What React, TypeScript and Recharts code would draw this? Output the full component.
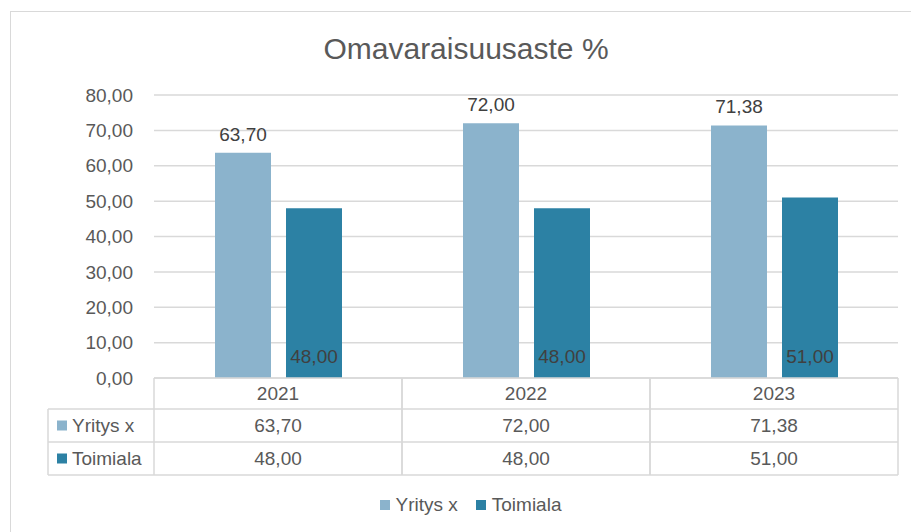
import React from 'react';
import { BarChart, Bar, XAxis, YAxis, CartesianGrid, LabelList, Legend } from 'recharts';

const years = ['2021', '2022', '2023'];
const yritysValues = [63.7, 72.0, 71.38];
const toimialaValues = [48.0, 48.0, 51.0];
const seriesNames = ['Yritys x', 'Toimiala'];
const seriesColors = ['#8BB3CC', '#2C81A4'];
const yTicks = [0, 10, 20, 30, 40, 50, 60, 70, 80];
const title = 'Omavaraisuusaste %';

const data = years.map((y, i) => ({ year: y, yritys: yritysValues[i], toimiala: toimialaValues[i] }));
const seriesValues = [yritysValues, toimialaValues];

const FONT = '"Liberation Sans", Arial, sans-serif';
const TEXT = '#595959';
const LINE = '#D9D9D9';

const fmt = (v: number) => v.toFixed(2).replace('.', ',');

const ROW_H = [31, 33, 33];

function TableTick(props: any) {
  const { x, y, payload, index } = props;
  const half = payload && payload.offset ? payload.offset : 124;
  const left = x - half;
  const right = x + half;
  const r1 = y + ROW_H[0];
  const r2 = r1 + ROW_H[1];
  const r3 = r2 + ROW_H[2];
  const els: any[] = [];
  els.push(<line key="vl" x1={left} x2={left} y1={y} y2={r3} stroke={LINE} strokeWidth={1.5} />);
  els.push(<line key="vr" x1={right} x2={right} y1={y} y2={r3} stroke={LINE} strokeWidth={1.5} />);
  els.push(<line key="h1" x1={left} x2={right} y1={r1} y2={r1} stroke={LINE} strokeWidth={1.5} />);
  els.push(<line key="h2" x1={left} x2={right} y1={r2} y2={r2} stroke={LINE} strokeWidth={1.5} />);
  els.push(<line key="h3" x1={left} x2={right} y1={r3} y2={r3} stroke={LINE} strokeWidth={1.5} />);
  els.push(
    <text key="hd" x={x} y={y + ROW_H[0] / 2} dy="0.36em" textAnchor="middle" fill={TEXT} fontSize={19} fontFamily={FONT}>
      {payload.value}
    </text>
  );
  seriesValues.forEach((vals, si) => {
    const cy = (si === 0 ? r1 + ROW_H[1] / 2 : r2 + ROW_H[2] / 2);
    els.push(
      <text key={'v' + si} x={x} y={cy} dy="0.36em" textAnchor="middle" fill={TEXT} fontSize={19} fontFamily={FONT}>
        {fmt(vals[index])}
      </text>
    );
  });
  if (index === 0) {
    const lx = 48;
    els.push(<line key="lh1" x1={lx} x2={left} y1={r1} y2={r1} stroke={LINE} strokeWidth={1.5} />);
    els.push(<line key="lh2" x1={lx} x2={left} y1={r2} y2={r2} stroke={LINE} strokeWidth={1.5} />);
    els.push(<line key="lh3" x1={lx} x2={left} y1={r3} y2={r3} stroke={LINE} strokeWidth={1.5} />);
    els.push(<line key="lv" x1={lx} x2={lx} y1={r1} y2={r3} stroke={LINE} strokeWidth={1.5} />);
    seriesNames.forEach((n, si) => {
      const cy = si === 0 ? r1 + ROW_H[1] / 2 : r2 + ROW_H[2] / 2;
      els.push(<rect key={'ls' + si} x={lx + 9} y={cy - 5} width={10} height={10} fill={seriesColors[si]} />);
      els.push(
        <text key={'lt' + si} x={lx + 24} y={cy} dy="0.36em" textAnchor="start" fill={TEXT} fontSize={19} fontFamily={FONT}>
          {n}
        </text>
      );
    });
  }
  return <g>{els}</g>;
}

function LegendContent() {
  return (
    <div style={{ display: 'flex', justifyContent: 'center', alignItems: 'center', height: 20, fontFamily: FONT, fontSize: 19, color: TEXT }}>
      {seriesNames.map((n, i) => (
        <div key={n} style={{ display: 'flex', alignItems: 'center', marginRight: i === 0 ? 18 : 0 }}>
          <span style={{ display: 'inline-block', width: 10, height: 10, background: seriesColors[i], marginRight: 6 }} />
          <span>{n}</span>
        </div>
      ))}
    </div>
  );
}

export default function App() {
  return (
    <div style={{ position: 'absolute', left: 0, top: 0, width: 911, height: 532, background: '#fff', overflow: 'hidden', fontFamily: FONT }}>
      <div style={{ position: 'absolute', left: 10, top: 11, width: 920, height: 540, border: '1.5px solid #D9D9D9', boxSizing: 'border-box' }} />
      <div style={{ position: 'absolute', left: 0, top: 32, width: 932, textAlign: 'center', fontSize: 30, color: TEXT, lineHeight: '34px', fontFamily: FONT }}>
        {title}
      </div>
      <div style={{ position: 'absolute', left: 0, top: 0 }}>
        <BarChart
          width={911}
          height={532}
          data={data}
          margin={{ top: 95, right: 13, bottom: 37, left: 0 }}
          barGap={15}
          barSize={56}
        >
          <CartesianGrid vertical={false} stroke={LINE} strokeWidth={1.5} />
          <YAxis
            domain={[0, 80]}
            ticks={yTicks}
            width={154}
            axisLine={false}
            tickLine={false}
            tickSize={0}
            tickMargin={21}
            tickFormatter={(v: number) => fmt(v)}
            tick={{ fill: TEXT, fontSize: 19, fontFamily: FONT }}
            interval={0}
          />
          <XAxis
            dataKey="year"
            height={97}
            axisLine={{ stroke: LINE, strokeWidth: 1.5 }}
            tickLine={false}
            tickSize={0}
            tickMargin={0}
            tick={<TableTick />}
            interval={0}
          />
          <Legend content={<LegendContent />} wrapperStyle={{ top: 495, left: 15, width: 911 }} />
          <Bar dataKey="yritys" name={seriesNames[0]} fill={seriesColors[0]} isAnimationActive={false}>
            <LabelList dataKey="yritys" position="top" offset={12} formatter={(v: any) => fmt(Number(v))} fill="#404040" fontSize={19} fontFamily={FONT} />
          </Bar>
          <Bar dataKey="toimiala" name={seriesNames[1]} fill={seriesColors[1]} isAnimationActive={false}>
            <LabelList dataKey="toimiala" position="insideBottom" offset={15} formatter={(v: any) => fmt(Number(v))} fill="#404040" fontSize={19} fontFamily={FONT} />
          </Bar>
        </BarChart>
      </div>
    </div>
  );
}
